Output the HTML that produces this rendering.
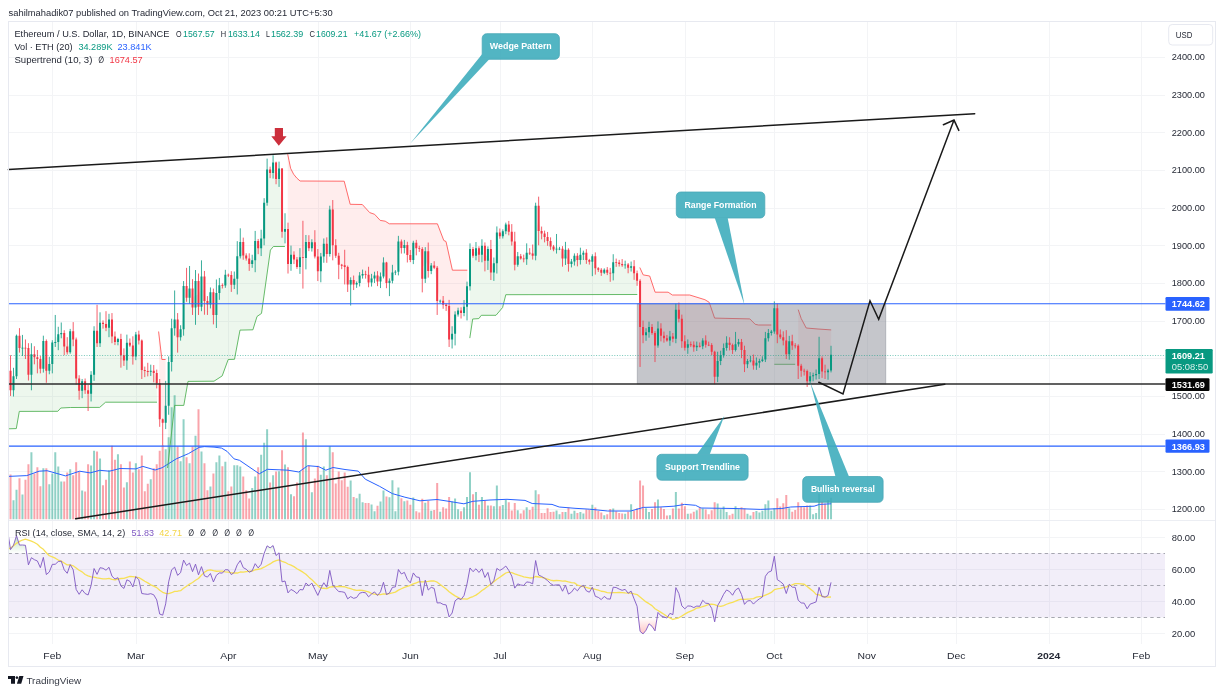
<!DOCTYPE html>
<html lang="en"><head><meta charset="utf-8"><title>ETH/USD chart</title>
<style>html,body{margin:0;padding:0;background:#fff}body{width:1224px;height:694px;overflow:hidden}svg{display:block;filter:blur(0.4px)}</style>
</head><body>
<svg width="1224" height="694" viewBox="0 0 1224 694" font-family='"Liberation Sans", "DejaVu Sans", sans-serif' font-size="10.4">
<rect width="1224" height="694" fill="#fff"/>
<path d="M8.5 509.5H1165M8.5 471.5H1165M8.5 434.5H1165M8.5 396.5H1165M8.5 358.5H1165M8.5 321.5H1165M8.5 283.5H1165M8.5 245.5H1165M8.5 208.5H1165M8.5 170.5H1165M8.5 132.5H1165M8.5 95.5H1165M8.5 57.5H1165M8.5 537.5H1165M8.5 569.5H1165M8.5 601.5H1165M8.5 633.5H1165M52.5 21.5V644M136.5 21.5V644M228.5 21.5V644M318.5 21.5V644M410.5 21.5V644M500.5 21.5V644M592.5 21.5V644M685.5 21.5V644M774.5 21.5V644M867.5 21.5V644M956.5 21.5V644M1049.5 21.5V644M1141.5 21.5V644" stroke="#f3f4f6" stroke-width="1" fill="none"/>
<path d="M12.51 519.2v-19h2v19zM15.5 519.2v-29.5h2v29.5zM21.46 519.2v-24.6h2v24.6zM30.41 519.2v-67h2v67zM42.35 519.2v-51h2v51zM48.32 519.2v-35h2v35zM51.3 519.2v-45.7h2v45.7zM54.28 519.2v-67h2v67zM57.27 519.2v-52.7h2v52.7zM60.25 519.2v-37.8h2v37.8zM69.2 519.2v-50h2v50zM81.14 519.2v-28.6h2v28.6zM90.09 519.2v-53.6h2v53.6zM93.07 519.2v-68.5h2v68.5zM99.04 519.2v-60.6h2v60.6zM107.99 519.2v-49h2v49zM116.94 519.2v-65h2v65zM125.89 519.2v-37h2v37zM134.84 519.2v-55.9h2v55.9zM149.76 519.2v-40h2v40zM164.68 519.2v-70h2v70zM167.66 519.2v-82h2v82zM170.64 519.2v-112h2v112zM173.63 519.2v-124h2v124zM179.59 519.2v-58h2v58zM182.58 519.2v-100h2v100zM188.55 519.2v-56h2v56zM194.51 519.2v-83.4h2v83.4zM200.48 519.2v-67.8h2v67.8zM209.43 519.2v-32.7h2v32.7zM215.4 519.2v-57h2v57zM218.38 519.2v-63.8h2v63.8zM224.35 519.2v-57.5h2v57.5zM233.3 519.2v-54h2v54zM236.28 519.2v-54h2v54zM239.27 519.2v-52.8h2v52.8zM251.2 519.2v-31.3h2v31.3zM254.18 519.2v-42.6h2v42.6zM260.15 519.2v-64.5h2v64.5zM263.14 519.2v-76.4h2v76.4zM266.12 519.2v-90h2v90zM272.09 519.2v-44h2v44zM278.05 519.2v-48h2v48zM284.02 519.2v-54.6h2v54.6zM289.99 519.2v-25h2v25zM298.94 519.2v-48h2v48zM304.91 519.2v-80h2v80zM310.87 519.2v-27h2v27zM319.82 519.2v-44.4h2v44.4zM322.81 519.2v-52.8h2v52.8zM328.77 519.2v-73h2v73zM349.66 519.2v-38.6h2v38.6zM355.63 519.2v-21h2v21zM358.61 519.2v-25.5h2v25.5zM361.59 519.2v-16.9h2v16.9zM370.55 519.2v-14.7h2v14.7zM373.53 519.2v-7.9h2v7.9zM379.5 519.2v-17.8h2v17.8zM382.48 519.2v-28.8h2v28.8zM388.45 519.2v-21.9h2v21.9zM391.43 519.2v-39h2v39zM394.41 519.2v-7.9h2v7.9zM397.4 519.2v-31.8h2v31.8zM403.36 519.2v-18h2v18zM412.32 519.2v-21.6h2v21.6zM424.25 519.2v-16.5h2v16.5zM430.22 519.2v-8.4h2v8.4zM439.17 519.2v-7.5h2v7.5zM451.1 519.2v-17.8h2v17.8zM454.09 519.2v-20.7h2v20.7zM457.07 519.2v-9.9h2v9.9zM463.04 519.2v-12h2v12zM466.02 519.2v-22.3h2v22.3zM469 519.2v-47h2v47zM474.97 519.2v-27.3h2v27.3zM480.94 519.2v-22.3h2v22.3zM486.91 519.2v-13.8h2v13.8zM492.87 519.2v-12.9h2v12.9zM495.86 519.2v-33.6h2v33.6zM501.82 519.2v-14.2h2v14.2zM504.81 519.2v-19.2h2v19.2zM516.74 519.2v-9h2v9zM525.69 519.2v-12h2v12zM534.64 519.2v-29h2v29zM555.53 519.2v-8.8h2v8.8zM558.51 519.2v-4.9h2v4.9zM564.48 519.2v-7.2h2v7.2zM570.45 519.2v-5.4h2v5.4zM573.43 519.2v-8.4h2v8.4zM579.4 519.2v-7.2h2v7.2zM582.38 519.2v-5.8h2v5.8zM591.33 519.2v-14.4h2v14.4zM603.27 519.2v-4h2v4zM612.22 519.2v-10.6h2v10.6zM624.15 519.2v-5.4h2v5.4zM630.12 519.2v-15h2v15zM645.04 519.2v-11h2v11zM648.02 519.2v-7.2h2v7.2zM656.97 519.2v-19.6h2v19.6zM668.91 519.2v-4h2v4zM674.87 519.2v-27.3h2v27.3zM686.81 519.2v-5.4h2v5.4zM695.76 519.2v-9h2v9zM701.72 519.2v-10.6h2v10.6zM716.64 519.2v-15.6h2v15.6zM719.63 519.2v-9.9h2v9.9zM722.61 519.2v-12.6h2v12.6zM725.59 519.2v-7.2h2v7.2zM734.54 519.2v-12.9h2v12.9zM737.53 519.2v-9.9h2v9.9zM746.48 519.2v-5.4h2v5.4zM749.46 519.2v-3.6h2v3.6zM755.43 519.2v-8.1h2v8.1zM758.41 519.2v-6.6h2v6.6zM761.4 519.2v-8.4h2v8.4zM764.38 519.2v-15h2v15zM767.36 519.2v-18.7h2v18.7zM770.35 519.2v-8.4h2v8.4zM773.33 519.2v-11h2v11zM788.25 519.2v-11h2v11zM809.13 519.2v-13.8h2v13.8zM812.12 519.2v-4.9h2v4.9zM815.1 519.2v-6.1h2v6.1zM818.09 519.2v-25.5h2v25.5zM827.04 519.2v-19.2h2v19.2zM830.02 519.2v-21.5h2v21.5z" fill="#089981" fill-opacity="0.45"/>
<path d="M9.53 519.2v-44.8h2v44.8zM18.48 519.2v-41h2v41zM24.45 519.2v-39.5h2v39.5zM27.43 519.2v-55h2v55zM33.4 519.2v-45.7h2v45.7zM36.38 519.2v-52h2v52zM39.37 519.2v-33h2v33zM45.33 519.2v-51h2v51zM63.23 519.2v-37.8h2v37.8zM66.22 519.2v-46.6h2v46.6zM72.19 519.2v-44h2v44zM75.17 519.2v-57h2v57zM78.15 519.2v-48h2v48zM84.12 519.2v-27.8h2v27.8zM87.1 519.2v-55h2v55zM96.05 519.2v-67.7h2v67.7zM102.02 519.2v-34h2v34zM105 519.2v-39.5h2v39.5zM110.97 519.2v-73.5h2v73.5zM113.96 519.2v-59.4h2v59.4zM119.92 519.2v-55h2v55zM122.91 519.2v-31.6h2v31.6zM128.87 519.2v-57.6h2v57.6zM131.86 519.2v-46.6h2v46.6zM137.82 519.2v-50h2v50zM140.81 519.2v-63.6h2v63.6zM143.79 519.2v-28h2v28zM146.78 519.2v-35.5h2v35.5zM152.74 519.2v-51h2v51zM155.73 519.2v-55h2v55zM158.71 519.2v-68.5h2v68.5zM161.69 519.2v-74h2v74zM176.61 519.2v-72.6h2v72.6zM185.56 519.2v-62h2v62zM191.53 519.2v-72.6h2v72.6zM197.5 519.2v-110h2v110zM203.46 519.2v-56h2v56zM206.45 519.2v-29h2v29zM212.41 519.2v-45.8h2v45.8zM221.37 519.2v-53h2v53zM227.33 519.2v-28h2v28zM230.32 519.2v-32.7h2v32.7zM242.25 519.2v-42.6h2v42.6zM245.23 519.2v-29h2v29zM248.22 519.2v-20.7h2v20.7zM257.17 519.2v-52h2v52zM269.1 519.2v-36.8h2v36.8zM275.07 519.2v-47.6h2v47.6zM281.04 519.2v-69h2v69zM287 519.2v-52h2v52zM292.97 519.2v-23h2v23zM295.96 519.2v-36.8h2v36.8zM301.92 519.2v-86.6h2v86.6zM307.89 519.2v-53.4h2v53.4zM313.86 519.2v-40.8h2v40.8zM316.84 519.2v-53.4h2v53.4zM325.79 519.2v-44h2v44zM331.76 519.2v-66.9h2v66.9zM334.74 519.2v-35.8h2v35.8zM337.73 519.2v-47.6h2v47.6zM340.71 519.2v-39h2v39zM343.69 519.2v-46.7h2v46.7zM346.68 519.2v-32.4h2v32.4zM352.64 519.2v-22.3h2v22.3zM364.58 519.2v-16.2h2v16.2zM367.56 519.2v-16.2h2v16.2zM376.51 519.2v-13.5h2v13.5zM385.46 519.2v-22.8h2v22.8zM400.38 519.2v-21h2v21zM406.35 519.2v-18.7h2v18.7zM409.33 519.2v-14.4h2v14.4zM415.3 519.2v-7.9h2v7.9zM418.28 519.2v-6.6h2v6.6zM421.27 519.2v-20.5h2v20.5zM427.23 519.2v-18.3h2v18.3zM433.2 519.2v-9.3h2v9.3zM436.18 519.2v-36.3h2v36.3zM442.15 519.2v-12h2v12zM445.14 519.2v-10.6h2v10.6zM448.12 519.2v-22.3h2v22.3zM460.05 519.2v-7.9h2v7.9zM471.99 519.2v-25h2v25zM477.95 519.2v-14.4h2v14.4zM483.92 519.2v-18.3h2v18.3zM489.89 519.2v-13.8h2v13.8zM498.84 519.2v-12.9h2v12.9zM507.79 519.2v-16.9h2v16.9zM510.77 519.2v-8.8h2v8.8zM513.76 519.2v-16.2h2v16.2zM519.73 519.2v-5.8h2v5.8zM522.71 519.2v-9h2v9zM528.68 519.2v-9.3h2v9.3zM531.66 519.2v-12.4h2v12.4zM537.63 519.2v-25h2v25zM540.61 519.2v-6.3h2v6.3zM543.59 519.2v-6.3h2v6.3zM546.58 519.2v-11h2v11zM549.56 519.2v-7.2h2v7.2zM552.54 519.2v-7.5h2v7.5zM561.5 519.2v-7.2h2v7.2zM567.46 519.2v-11.7h2v11.7zM576.41 519.2v-6.3h2v6.3zM585.36 519.2v-9.7h2v9.7zM588.35 519.2v-9.7h2v9.7zM594.32 519.2v-11.7h2v11.7zM597.3 519.2v-8.1h2v8.1zM600.28 519.2v-6.6h2v6.6zM606.25 519.2v-4.9h2v4.9zM609.23 519.2v-10.2h2v10.2zM615.2 519.2v-7.9h2v7.9zM618.18 519.2v-6.3h2v6.3zM621.17 519.2v-5.8h2v5.8zM627.13 519.2v-7.5h2v7.5zM633.1 519.2v-8.4h2v8.4zM636.09 519.2v-11h2v11zM639.07 519.2v-38.6h2v38.6zM642.05 519.2v-33.6h2v33.6zM651 519.2v-10.2h2v10.2zM653.99 519.2v-16.9h2v16.9zM659.95 519.2v-12h2v12zM662.94 519.2v-10.2h2v10.2zM665.92 519.2v-3.6h2v3.6zM671.89 519.2v-10.6h2v10.6zM677.86 519.2v-10.8h2v10.8zM680.84 519.2v-16.5h2v16.5zM683.82 519.2v-12.9h2v12.9zM689.79 519.2v-5.8h2v5.8zM692.77 519.2v-7.5h2v7.5zM698.74 519.2v-12h2v12zM704.71 519.2v-9.7h2v9.7zM707.69 519.2v-4.9h2v4.9zM710.68 519.2v-9h2v9zM713.66 519.2v-16.9h2v16.9zM728.58 519.2v-4h2v4zM731.56 519.2v-5.4h2v5.4zM740.51 519.2v-12h2v12zM743.5 519.2v-10.8h2v10.8zM752.45 519.2v-7.2h2v7.2zM776.31 519.2v-21h2v21zM779.3 519.2v-12.6h2v12.6zM782.28 519.2v-16h2v16zM785.27 519.2v-24.3h2v24.3zM791.23 519.2v-7.5h2v7.5zM794.22 519.2v-9.3h2v9.3zM797.2 519.2v-16.9h2v16.9zM800.18 519.2v-12.6h2v12.6zM803.17 519.2v-12h2v12zM806.15 519.2v-13.8h2v13.8zM821.07 519.2v-17.4h2v17.4zM824.05 519.2v-15.6h2v15.6z" fill="#f23645" fill-opacity="0.45"/>
<polyline points="8.4,476.4 26.8,475.6 39.1,471.2 47.1,470.7 65.5,475.9 79.6,471.2 90.1,472.9 99.8,470.3 109.4,471.2 120,468.5 135.8,468.9 142.8,466.4 155.1,470 162.2,467.7 176.2,458.9 188.5,453.6 199.1,447.4 204.4,446.6 214,447.1 221.6,448.1 227,451.3 234.1,458.9 239.5,460.3 259.3,473.8 267.4,469.3 288,470.2 298.8,472 307.8,465.7 318.6,466.6 325.8,470.2 333,467.5 345,469.5 358.2,471.1 365.3,479.2 379.7,486.4 392.3,493.6 404.9,497.2 420,500.8 437,499.5 450,501.5 463.9,503.8 472.9,501.3 490,500 507,499.3 525,500.4 532.2,503.5 552,504.4 559.2,507 575,508.3 589.7,509.2 607.7,511 630.8,511 643.4,507.4 660,507 673.9,506.2 684.7,504.4 695.5,505.3 700.9,508 735,508.5 760.2,509.4 781.8,508.5 790.7,507 814.1,506.2 819.5,504.4 831.2,503.8" fill="none" stroke="#2962ff" stroke-width="1" stroke-linejoin="round"/>
<polygon points="8.4,428.8 16.3,428.6 19.3,411.4 57.8,411.3 60.8,408 70.4,407.5 99.7,407.4 105.6,402.2 157,402.2 156.73,378.53 153.74,372.78 150.76,370.8 147.78,370.52 144.79,371.18 141.81,357.24 138.82,337.57 135.84,345.75 132.86,350.69 129.87,343.43 126.89,351.96 123.91,357.53 120.92,348.96 117.94,341.07 114.96,338.78 111.97,328.05 108.99,324.56 106,323.53 103.02,323.97 100.04,331.34 97.05,331.44 94.07,353.19 91.09,385.3 88.1,394.91 85.12,385.99 82.14,387.28 79.15,386.06 76.17,360.07 73.19,334.73 70.2,341.52 67.22,347.64 64.23,341.27 61.25,332 58.27,338.3 55.28,336.62 52.3,354.98 49.32,366.43 46.33,358.47 43.35,354.51 40.37,364.31 37.38,359.88 34.4,355.45 31.41,365.62 28.43,361.67 25.45,348.58 22.46,346.69 19.48,341.14 16.5,356.39 13.51,382.75 10.53,378.06" fill="#4caf50" fill-opacity="0.1"/>
<polyline points="8.4,428.8 16.3,428.6 19.3,411.4 57.8,411.3 60.8,408 70.4,407.5 99.7,407.4 105.6,402.2 157,402.2" fill="none" stroke="#4caf50" stroke-width="1" stroke-opacity="0.85" stroke-linejoin="round"/>
<polygon points="158.6,331.5 161.9,359.5 165.6,359.5 165.6,409.6 162.69,426.56 159.71,402.07" fill="#ff5252" fill-opacity="0.1"/>
<polyline points="158.6,331.5 161.9,359.5 165.6,359.5" fill="none" stroke="#ff5252" stroke-width="1" stroke-opacity="0.85" stroke-linejoin="round"/>
<polygon points="167.6,468 174.6,405.4 183.8,405.4 188,381.4 214,381.2 222.2,375.9 228.2,359.5 234.5,359.3 240,330.1 252.9,329.8 257,316.5 261.5,313.4 270.4,250.1 273.4,246.5 284.9,246.5 279.05,173.98 276.07,171.81 273.09,167.29 270.1,171.83 267.12,184.15 264.14,221.16 261.15,243.14 258.17,245.64 255.18,251.14 252.2,261.76 249.22,261.68 246.23,256.96 243.25,248.67 240.27,246.21 237.28,267.66 234.3,281.04 231.32,280.74 228.33,275.08 225.35,279.46 222.37,285.66 219.38,289.02 216.4,303.89 213.41,305.07 210.43,298.16 207.45,304.13 204.46,290.81 201.48,288.68 198.5,294.05 195.51,295.83 192.53,297.54 189.55,288.97 186.56,288.31 183.58,307.99 180.59,333.1 177.61,330.59 174.63,318.44 171.64,345.09 168.66,384.74" fill="#4caf50" fill-opacity="0.1"/>
<polyline points="167.6,468 174.6,405.4 183.8,405.4 188,381.4 214,381.2 222.2,375.9 228.2,359.5 234.5,359.3 240,330.1 252.9,329.8 257,316.5 261.5,313.4 270.4,250.1 273.4,246.5 284.9,246.5" fill="none" stroke="#4caf50" stroke-width="1" stroke-opacity="0.85" stroke-linejoin="round"/>
<polygon points="287.7,154.2 289,160.5 290.6,168.3 293.6,174.2 296.8,178.1 300.1,181 344.2,181.2 350.2,204.3 362.3,204.5 369.7,212.6 374.6,214.3 380.2,220.4 385.2,221.2 389.3,223.8 437.4,223.8 443.8,240.5 446,241.5 452.4,270.2 467.3,270.2 467.02,298.76 464.04,309.01 461.05,312.33 458.07,312.32 455.09,326.28 452.1,336.99 449.12,323.06 446.14,306.29 443.15,302.57 440.17,301.13 437.18,287.46 434.2,265.95 431.22,268.42 428.23,260.58 425.25,265.05 422.27,266.83 419.28,248.75 416.3,246.53 413.32,251.86 410.33,256.79 407.35,251.06 404.36,246.53 401.38,245.62 398.4,256.1 395.41,272.33 392.43,275.32 389.45,284.54 386.46,273.9 383.48,268.72 380.5,279.63 377.51,278.54 374.53,277.13 371.55,280.35 368.56,277.81 365.58,274.47 362.59,274.37 359.61,279.22 356.63,284.17 353.64,282.5 350.66,286.8 347.68,277.29 344.69,266.65 341.71,265.79 338.73,263.16 335.74,249.55 332.76,228.79 329.77,231.42 326.79,249.46 323.81,250.39 320.82,265.76 317.84,264.48 314.86,246.87 311.87,245.33 308.89,244.13 305.91,251.08 302.92,256.19 299.94,261.61 296.96,263.16 293.97,257.41 290.99,258.8 288,247.34 287.7,229.35 287.7,201.48" fill="#ff5252" fill-opacity="0.1"/>
<polyline points="287.7,154.2 289,160.5 290.6,168.3 293.6,174.2 296.8,178.1 300.1,181 344.2,181.2 350.2,204.3 362.3,204.5 369.7,212.6 374.6,214.3 380.2,220.4 385.2,221.2 389.3,223.8 437.4,223.8 443.8,240.5 446,241.5 452.4,270.2 467.3,270.2" fill="none" stroke="#ff5252" stroke-width="1" stroke-opacity="0.85" stroke-linejoin="round"/>
<polygon points="469.8,338.1 472.7,319 478.8,318.6 481.3,315.3 496,315.3 502.6,307.5 505.8,294.7 637.3,294.5 637.09,277.55 634.1,269.88 631.12,266.84 628.13,267.16 625.15,264.78 622.17,263.82 619.18,263.28 616.2,262.56 613.22,267.5 610.23,273.9 607.25,271.17 604.27,271.24 601.28,271.63 598.3,269.27 595.32,262.86 592.33,262.13 589.35,261.32 586.36,256.46 583.38,254.53 580.4,256.71 577.41,258.81 574.43,259.06 571.45,262.98 568.46,258.45 565.48,253.77 562.5,254.98 559.51,248.58 556.53,246.4 553.54,248 550.56,243.68 547.58,238.96 544.59,235.89 541.61,232.62 538.63,219.65 535.64,231.14 532.66,253.37 529.68,252.37 526.69,255.06 523.71,258.65 520.73,257.06 517.74,259.94 514.76,252.14 511.77,235.72 508.79,228.12 505.81,228.18 502.82,233.85 499.84,233.97 496.86,248.94 493.87,268.55 490.89,260.34 487.91,256.52 484.92,255.04 481.94,250.47 478.95,252.82 475.97,251.61 472.99,252.38 470,267.31" fill="#4caf50" fill-opacity="0.1"/>
<polyline points="469.8,338.1 472.7,319 478.8,318.6 481.3,315.3 496,315.3 502.6,307.5 505.8,294.7 637.3,294.5" fill="none" stroke="#4caf50" stroke-width="1" stroke-opacity="0.85" stroke-linejoin="round"/>
<polygon points="639.8,267.5 643.2,274.9 649.7,276 655.1,292.2 668.1,292.2 672.4,295 689.7,295 704.9,299.7 709.2,302.3 714.6,318.1 749.8,318.9 755.2,324.3 758.4,325 771.3,325 771.3,332.5 768.36,335.46 765.38,347.92 762.4,359.68 759.41,362.58 756.43,363.9 753.45,362.55 750.46,359.95 747.48,363.09 744.5,358.01 741.51,347.28 738.53,343.01 735.54,344.43 732.56,348.16 729.58,343.92 726.59,344.48 723.61,351.12 720.63,358.01 717.64,367.87 714.66,365.91 711.68,348.81 708.69,344.38 705.71,342.07 702.72,343.56 699.74,345.5 696.76,346.44 693.77,346.27 690.79,344.42 687.81,346.33 684.82,343.72 681.84,330.63 678.86,313.33 675.87,323.81 672.89,337.6 669.91,338.44 666.92,338.89 663.94,337.06 660.95,332.21 657.97,335.77 654.99,342.93 652,329.73 649.02,329.66 646.04,334.17 643.05,331.53 640.07,313.45" fill="#ff5252" fill-opacity="0.1"/>
<polyline points="639.8,267.5 643.2,274.9 649.7,276 655.1,292.2 668.1,292.2 672.4,295 689.7,295 704.9,299.7 709.2,302.3 714.6,318.1 749.8,318.9 755.2,324.3 758.4,325 771.3,325" fill="none" stroke="#ff5252" stroke-width="1" stroke-opacity="0.85" stroke-linejoin="round"/>
<polygon points="774.3,364.3 795.2,364.3 795.2,345.72 792.23,342.86 789.25,347.78 786.27,345.97 783.28,338.61 780.3,335.02 777.31,322.4 774.33,318.72" fill="#4caf50" fill-opacity="0.1"/>
<polyline points="774.3,364.3 795.2,364.3" fill="none" stroke="#4caf50" stroke-width="1" stroke-opacity="0.85" stroke-linejoin="round"/>
<polygon points="798.2,309.6 801.2,318.5 806.2,328 818,329 831.2,329.9 831.02,360.89 828.04,372.82 825.05,371.84 822.07,366 819.09,362.05 816.1,374.59 813.12,376.39 810.13,378.36 807.15,377.21 804.17,371.51 801.18,369.28 798.2,358.75" fill="#ff5252" fill-opacity="0.1"/>
<polyline points="798.2,309.6 801.2,318.5 806.2,328 818,329 831.2,329.9" fill="none" stroke="#ff5252" stroke-width="1" stroke-opacity="0.85" stroke-linejoin="round"/>
<rect x="637.2" y="303.8" width="248.6" height="80.21" fill="#787b86" fill-opacity="0.43" stroke="#787b86" stroke-opacity="0.45" stroke-width="0.8"/>
<path d="M13.51 367.81V396.53M16.5 334.55V379M22.46 334.92V356.02M31.41 343.21V390.3M43.35 335.68V372.59M49.32 356.81V374.28M52.3 340.2V373.35M55.28 314.96V346.98M58.27 326.78V350.18M61.25 322.49V338.31M70.2 328.9V353.76M82.14 378.98V398.19M91.09 371.17V401.48M94.07 326.26V380.88M100.04 312.32V346.98M108.99 313.83V337.18M117.94 337.84V345.31M126.89 334.64V369.82M135.84 331.91V360.16M150.76 364.68V375.98M165.68 380.88V429.1M168.66 356.39V414.78M171.64 318.72V371.46M174.63 290.47V335.68M180.59 325.25V340.67M183.58 281.05V335.68M189.55 265.99V303.66M195.51 270.03V324.82M201.48 260.34V311.19M210.43 287.46V308.4M216.4 279.49V328.01M219.38 277.95V299.82M225.35 269.81V287.8M234.3 271.52V289.02M237.28 241.17V294.46M240.27 228.32V258.45M252.2 254.75V267.84M255.18 230.92V272.2M261.15 229.75V256.06M264.14 198.18V245.27M267.12 158.63V205.71M273.09 155.24V178.59M279.05 161.64V186.88M285.02 213.25V243.38M290.99 245.6V270.8M299.94 248.12V273.9M305.91 234.97V269.4M311.87 239.23V251.55M320.82 252.95V282.27M323.81 238.48V262.76M329.77 205.71V256.57M350.66 277.29V305.54M356.63 281.44V287.86M359.61 272.1V286.43M362.59 269.58V278.6M371.55 273.87V286.55M374.53 271.73V282.96M380.5 272.48V288.07M383.48 257.32V278.42M389.45 278.42V296.12M392.43 264.84V283.36M395.41 270.18V275.1M398.4 235.85V275.4M404.36 239.91V253.44M413.32 240.75V264.1M425.25 247.15V282.94M431.22 263.06V274.14M440.17 299.63V303.21M452.1 326.26V348.48M455.09 311.31V345.42M458.07 307.69V316.58M464.04 300.07V316.22M467.02 281.63V320.41M470 243.38V290.47M475.97 242.06V260.29M481.94 239.25V262.29M487.91 246.41V269.94M493.87 257.54V280.9M496.86 226.43V273.52M502.82 229.33V238.52M505.81 222.65V234.19M517.74 251.96V266.76M526.69 243.38V264.86M535.64 202.7V260.34M556.53 233.97V253.56M559.51 246.83V250.15M565.48 241.85V264.97M571.45 258.93V267.42M574.43 253.42V265.56M580.4 247.69V264.52M583.38 250.64V260M592.33 254.31V276.16M604.27 268.35V274.08M613.22 254.23V280.39M625.15 260.66V268.73M631.12 261.55V271.57M646.04 328.26V340.81M649.02 321.67V337.69M657.97 321.36V347.73M669.91 330.9V345.84M675.87 303.66V343.21M687.81 339.42V353.83M696.76 341.56V351.01M702.72 338.24V349.19M717.64 351.71V382.12M720.63 350.76V365.11M723.61 343.47V357.65M726.59 336.29V350.68M735.54 331.91V351.5M738.53 338.92V346.68M747.48 358.97V368.15M750.46 356.01V362.36M756.43 357.49V369.89M759.41 358.81V367.81M762.4 356.3V362.07M765.38 331.91V362.05M768.36 329.03V341.47M771.35 329.88V335.55M774.33 301.4V333.79M789.25 335.89V359.75M810.13 372.12V383.71M813.12 372.69V381.27M816.1 369.49V379.55M819.09 336.81V379M828.04 368.83V379.75M831.02 345.79V372.45" stroke="#089981" stroke-width="0.8" fill="none"/>
<path d="M10.53 355.26V395.95M19.48 328.14V352.63M25.45 339.44V359.03M28.43 343.21V380.5M34.4 346.22V364.31M37.38 349.99V373.35M40.37 356.02V373.35M46.33 339.44V382.76M64.23 330.23V355.2M67.22 337.18V354.51M73.19 322.12V346.22M76.17 337.56V384.65M79.15 375.23V399.72M85.12 378.51V393.9M88.1 384.65V411.02M97.05 304.79V346.98M103.02 320.39V328.61M106 311.19V331.16M111.97 313.07V343.21M114.96 331.5V345.09M120.92 333.79V367.7M123.91 348.38V365.92M129.87 338.51V346.89M132.86 336.29V364.62M138.82 330.67V344.48M141.81 339.44V379M144.79 366.57V377.11M147.78 362.8V376.36M153.74 365.06V382.39M156.73 369.58V388.41M159.71 379V426.84M162.69 418.55V445.67M177.61 313.07V352.63M186.56 267.87V301.77M192.53 279.17V314.96M198.5 273.52V314.96M204.46 270.94V314.72M207.45 296.12V314.96M213.41 288.59V324.38M222.37 283.4V288.47M228.33 273.6V277.02M231.32 271.19V291.92M243.25 237.62V259.75M246.23 253.29V260.64M249.22 253.32V270.86M258.17 238.96V254.18M270.1 166.66V178.17M276.07 161.64V184.24M282.04 168.04V237.73M288 222.67V273.52M293.97 251.34V264.04M296.96 257.06V268.87M302.92 220.78V288.59M308.89 235.23V251.13M314.86 230.2V258.45M317.84 249.04V281.05M326.79 237.36V262.8M332.76 200.06V260.34M335.74 239.21V257.92M338.73 252.8V279.17M341.71 263.9V269.19M344.69 249.79V284.45M347.68 265.61V291.98M353.64 275.56V290.06M365.58 270.72V278.61M368.56 266.77V287.26M377.51 271.17V286.15M386.46 261.84V288.21M401.38 239.51V253.59M407.35 241.78V262.49M410.33 249.99V262.15M416.3 239.87V255.35M419.28 245.74V251.92M422.27 247.15V292.36M428.23 242.53V277.63M434.2 261.22V269.09M437.18 265.99V314.96M443.15 296.03V308.81M446.14 303.51V310.94M449.12 299.89V346.98M461.05 307.3V318.5M472.99 246.89V257.76M478.95 246.29V262.03M484.92 242.43V271.38M490.89 239.92V280.03M499.84 228.48V238.73M508.79 220.91V235.3M511.77 224.1V245.57M514.76 231.78V270.4M520.73 253.93V259.65M523.71 254.6V262.34M529.68 248.16V254.95M532.66 244.51V259.58M538.63 196.67V245.27M541.61 226.57V239.35M544.59 230.64V242.36M547.58 231.94V245.8M550.56 237.38V249.82M553.54 244.93V251.24M562.5 246.14V266.67M568.46 248.28V271.64M577.41 253.11V266.35M586.36 249.18V263.89M589.35 258.86V264.6M595.32 252.39V274.62M598.3 267.17V271.92M601.28 268.12V275.9M607.25 267.08V275.1M610.23 267.87V281.81M616.2 258.58V266.85M619.18 259.9V266.53M622.17 259.08V266.86M628.13 263.02V273.27M634.1 260.14V279.87M637.09 270.56V285.81M640.07 279.17V366.94M643.05 320.61V343.21M652 324.12V334.73M654.99 331.16V362.05M660.95 323.28V341.36M663.94 331.58V342.66M666.92 334.97V341.72M672.89 333.03V342.24M678.86 302.55V322.36M681.84 314.62V347.85M684.82 335.28V350.54M690.79 341.54V347.1M693.77 341.31V351.72M699.74 342.48V347.46M705.71 335.34V347.64M708.69 341.64V346.08M711.68 343.13V355.16M714.66 350.74V384.27M729.58 337.28V350.46M732.56 343.6V353.94M741.51 338.96V358.1M744.5 345.69V372.07M753.45 354.57V369.67M777.31 303.66V343.21M780.3 329.46V338.91M783.28 331.33V345.36M786.27 330.16V359.02M792.23 334.74V349.9M795.22 343.17V348.4M798.2 344.34V379M801.18 363.85V376.76M804.17 368.69V375.55M807.15 369.58V386.91M822.07 356.39V377.87M825.05 364.68V379" stroke="#f23645" stroke-width="0.8" fill="none"/>
<path d="M12.51 376.36h2V390.3h-2zM15.5 335.68h2V376.36h-2zM21.46 347.73h2V348.53h-2zM30.41 354.13h2V374.85h-2zM42.35 340.95h2V368.83h-2zM48.32 363.93h2V370.71h-2zM51.3 342.46h2V363.93h-2zM54.28 342.08h2V342.88h-2zM57.27 334.17h2V342.08h-2zM60.25 333.04h2V334.17h-2zM69.2 331.16h2V352.25h-2zM81.14 381.26h2V390.67h-2zM90.09 374.85h2V393.69h-2zM93.07 330.78h2V374.85h-2zM99.04 322.87h2V343.21h-2zM107.99 319.48h2V327.77h-2zM116.94 339.07h2V342.08h-2zM125.89 342.83h2V360.54h-2zM134.84 334.55h2V356.39h-2zM149.76 370.71h2V371.84h-2zM164.68 405.74h2V422.69h-2zM167.66 362.05h2V405.74h-2zM170.64 328.14h2V362.05h-2zM173.63 319.48h2V328.14h-2zM179.59 329.27h2V337.18h-2zM182.58 285.95h2V329.27h-2zM188.55 288.59h2V297.63h-2zM194.51 281.05h2V307.42h-2zM200.48 276.53h2V306.67h-2zM209.43 292.36h2V304.41h-2zM215.4 293.11h2V314.96h-2zM218.38 285.2h2V293.11h-2zM224.35 274.65h2V285.58h-2zM233.3 278.79h2V284.82h-2zM236.28 256.19h2V278.79h-2zM239.27 241.88h2V256.19h-2zM251.2 260.34h2V264.1h-2zM254.18 241.12h2V260.34h-2zM260.15 238.49h2V248.28h-2zM263.14 202.7h2V238.49h-2zM266.12 169.55h2V202.7h-2zM272.09 162.39h2V172.94h-2zM278.05 168.42h2V178.97h-2zM284.02 229.07h2V231.71h-2zM289.99 254.69h2V264.1h-2zM298.94 257.32h2V267.12h-2zM304.91 241.88h2V258.08h-2zM310.87 242.25h2V248.28h-2zM319.82 256.57h2V271.26h-2zM322.81 243.76h2V256.57h-2zM328.77 209.48h2V253.93h-2zM349.66 279.92h2V284.45h-2zM355.63 282.94h2V284.45h-2zM358.61 275.4h2V282.94h-2zM361.59 273.9h2V275.4h-2zM370.55 278.42h2V282.56h-2zM373.53 275.4h2V278.42h-2zM379.5 276.53h2V281.43h-2zM382.48 262.6h2V276.53h-2zM388.45 280.68h2V282.94h-2zM391.43 272.39h2V280.68h-2zM394.41 271.64h2V272.44h-2zM397.4 241.5h2V271.64h-2zM403.36 244.89h2V247.91h-2zM412.32 242.63h2V259.96h-2zM424.25 251.3h2V278.79h-2zM430.22 265.61h2V270.88h-2zM439.17 300.64h2V301.44h-2zM451.1 333.79h2V339.44h-2zM454.09 314.58h2V333.79h-2zM457.07 310.44h2V314.58h-2zM463.04 306.67h2V313.07h-2zM466.02 286.33h2V306.67h-2zM469 249.04h2V286.33h-2zM474.97 248.28h2V255.82h-2zM480.94 245.65h2V254.69h-2zM486.91 249.04h2V260.71h-2zM492.87 263.35h2V272.39h-2zM495.86 232.46h2V263.35h-2zM501.82 231.33h2V236.23h-2zM504.81 224.55h2V231.33h-2zM516.74 256.19h2V264.86h-2zM525.69 252.8h2V259.21h-2zM534.64 205.71h2V255.82h-2zM555.53 248.66h2V249.46h-2zM558.51 248.66h2V249.46h-2zM564.48 249.79h2V258.45h-2zM570.45 261.47h2V264.1h-2zM573.43 255.82h2V261.47h-2zM579.4 254.69h2V259.96h-2zM582.38 252.8h2V254.69h-2zM591.33 256.19h2V261.84h-2zM603.27 269.75h2V272.77h-2zM612.22 262.22h2V273.14h-2zM624.15 264.48h2V265.28h-2zM630.12 266.36h2V267.87h-2zM645.04 332.29h2V335.3h-2zM648.02 327.01h2V332.29h-2zM656.97 328.52h2V345.47h-2zM668.91 336.43h2V340.57h-2zM674.87 309.68h2V338.69h-2zM686.81 344.34h2V347.73h-2zM695.76 345.85h2V347.35h-2zM701.72 340.57h2V346.22h-2zM716.64 360.92h2V376.74h-2zM719.63 355.26h2V360.92h-2zM722.61 348.11h2V355.26h-2zM725.59 342.83h2V348.11h-2zM734.54 344.34h2V349.99h-2zM737.53 342.08h2V344.34h-2zM746.48 360.92h2V364.31h-2zM749.46 360.54h2V361.34h-2zM755.43 362.8h2V365.44h-2zM758.41 360.92h2V362.8h-2zM761.4 359.41h2V360.92h-2zM764.38 338.31h2V359.41h-2zM767.36 333.04h2V338.31h-2zM770.35 331.53h2V333.04h-2zM773.33 308.18h2V331.53h-2zM788.25 341.33h2V354.13h-2zM809.13 376.36h2V381.26h-2zM812.12 375.23h2V376.36h-2zM815.1 374.1h2V375.23h-2zM818.09 358.28h2V374.1h-2zM827.04 370.49h2V372.22h-2zM830.02 354.81h2V370.49h-2z" fill="#089981"/>
<path d="M9.53 370.71h2V390.3h-2zM18.48 335.68h2V348.11h-2zM24.45 347.73h2V348.53h-2zM27.43 348.11h2V374.85h-2zM33.4 354.13h2V357.15h-2zM36.38 357.15h2V359.03h-2zM39.37 359.03h2V368.83h-2zM45.33 340.95h2V370.71h-2zM63.23 333.04h2V346.6h-2zM66.22 346.6h2V352.25h-2zM72.19 331.16h2V339.44h-2zM75.17 339.44h2V378.62h-2zM78.15 378.62h2V390.67h-2zM84.12 381.26h2V390.3h-2zM87.1 390.3h2V393.69h-2zM96.05 330.78h2V343.21h-2zM102.02 322.87h2V324h-2zM105 324h2V327.77h-2zM110.97 319.48h2V336.43h-2zM113.96 336.43h2V342.08h-2zM119.92 339.07h2V355.26h-2zM122.91 355.26h2V360.54h-2zM128.87 342.83h2V345.47h-2zM131.86 345.47h2V356.39h-2zM137.82 334.55h2V340.57h-2zM140.81 340.57h2V369.96h-2zM143.79 369.96h2V371.09h-2zM146.78 371.09h2V371.89h-2zM152.74 370.71h2V372.97h-2zM155.73 372.97h2V383.14h-2zM158.71 383.14h2V419.3h-2zM161.69 419.3h2V422.69h-2zM176.61 319.48h2V337.18h-2zM185.56 285.95h2V297.63h-2zM191.53 288.59h2V307.42h-2zM197.5 281.05h2V306.67h-2zM203.46 276.53h2V301.02h-2zM206.45 301.02h2V304.41h-2zM212.41 292.36h2V314.96h-2zM221.37 285.2h2V286h-2zM227.33 274.65h2V275.45h-2zM230.32 275.03h2V284.82h-2zM242.25 241.88h2V255.44h-2zM245.23 255.44h2V258.45h-2zM248.22 258.45h2V264.1h-2zM257.17 241.12h2V248.28h-2zM269.1 169.55h2V172.94h-2zM275.07 162.39h2V178.97h-2zM281.04 168.42h2V231.71h-2zM287 229.07h2V264.1h-2zM292.97 254.69h2V259.58h-2zM295.96 259.58h2V267.12h-2zM301.92 257.32h2V258.12h-2zM307.89 241.88h2V248.28h-2zM313.86 242.25h2V256.57h-2zM316.84 256.57h2V271.26h-2zM325.79 243.76h2V253.93h-2zM331.76 209.48h2V245.27h-2zM334.74 245.27h2V255.82h-2zM337.73 255.82h2V264.86h-2zM340.71 264.86h2V265.66h-2zM343.69 265.23h2V267.12h-2zM346.68 267.12h2V284.45h-2zM352.64 279.92h2V284.45h-2zM364.58 273.9h2V274.7h-2zM367.56 274.65h2V282.56h-2zM376.51 275.4h2V281.43h-2zM385.46 262.6h2V282.94h-2zM400.38 241.5h2V247.91h-2zM406.35 244.89h2V255.06h-2zM409.33 255.06h2V259.96h-2zM415.3 242.63h2V248.28h-2zM418.28 248.28h2V249.08h-2zM421.27 249.04h2V278.79h-2zM427.23 251.3h2V270.88h-2zM433.2 265.61h2V267.87h-2zM436.18 267.87h2V301.02h-2zM442.15 300.64h2V304.79h-2zM445.14 304.79h2V305.92h-2zM448.12 305.92h2V339.44h-2zM460.05 310.44h2V313.07h-2zM471.99 249.04h2V255.82h-2zM477.95 248.28h2V254.69h-2zM483.92 245.65h2V260.71h-2zM489.89 249.04h2V272.39h-2zM498.84 232.46h2V236.23h-2zM507.79 224.55h2V231.71h-2zM510.77 231.71h2V241.5h-2zM513.76 241.5h2V264.86h-2zM519.73 256.19h2V258.45h-2zM522.71 258.45h2V259.25h-2zM528.68 252.8h2V253.6h-2zM531.66 253.56h2V255.82h-2zM537.63 205.71h2V230.95h-2zM540.61 230.95h2V233.59h-2zM543.59 233.59h2V236.98h-2zM546.58 236.98h2V241.12h-2zM549.56 241.12h2V246.4h-2zM552.54 246.4h2V249.41h-2zM561.5 248.66h2V258.45h-2zM567.46 249.79h2V264.1h-2zM576.41 255.82h2V259.96h-2zM585.36 252.8h2V259.96h-2zM588.35 259.96h2V261.84h-2zM594.32 256.19h2V268.25h-2zM597.3 268.25h2V269.75h-2zM600.28 269.75h2V272.77h-2zM606.25 269.75h2V272.77h-2zM609.23 272.77h2V273.57h-2zM615.2 262.22h2V263.02h-2zM618.18 262.6h2V264.1h-2zM621.17 264.1h2V265.23h-2zM627.13 264.48h2V267.87h-2zM633.1 266.36h2V273.14h-2zM636.09 273.14h2V280.68h-2zM639.07 280.68h2V327.01h-2zM642.05 327.01h2V335.3h-2zM651 327.01h2V333.04h-2zM653.99 333.04h2V345.47h-2zM659.95 328.52h2V335.68h-2zM662.94 335.68h2V338.31h-2zM665.92 338.31h2V340.57h-2zM671.89 336.43h2V338.69h-2zM677.86 309.68h2V318.72h-2zM680.84 318.72h2V341.33h-2zM683.82 341.33h2V347.73h-2zM689.79 344.34h2V345.14h-2zM692.77 344.72h2V347.35h-2zM698.74 345.85h2V346.65h-2zM704.71 340.57h2V344.72h-2zM707.69 344.72h2V345.52h-2zM710.68 345.09h2V351.87h-2zM713.66 351.87h2V376.74h-2zM728.58 342.83h2V345.09h-2zM731.56 345.09h2V349.99h-2zM740.51 342.08h2V349.99h-2zM743.5 349.99h2V364.31h-2zM752.45 360.54h2V365.44h-2zM776.31 308.18h2V334.55h-2zM779.3 334.55h2V337.18h-2zM782.28 337.18h2V340.57h-2zM785.27 340.57h2V354.13h-2zM791.23 341.33h2V345.47h-2zM794.22 345.47h2V346.27h-2zM797.2 345.85h2V365.81h-2zM800.18 365.81h2V370.71h-2zM803.17 370.71h2V371.51h-2zM806.15 371.09h2V381.26h-2zM821.07 358.28h2V371.46h-2zM824.05 371.46h2V372.26h-2z" fill="#f23645"/>
<path d="M8.5 355.5H1165" stroke="#089981" stroke-width="1" stroke-dasharray="1 1.6" opacity="0.55"/>
<path d="M8.5 303.8H1165.5" stroke="#2962ff" stroke-width="1.1"/>
<path d="M8.5 446.08H1165.5" stroke="#2962ff" stroke-width="1.1"/>
<path d="M8.5 384.01H1165.5" stroke="#2c2c2c" stroke-width="1.35"/>
<path d="M8.4 169.6L974.7 113.7" stroke="#1a1a1a" stroke-width="1.5" stroke-linecap="round"/>
<path d="M75.6 518.7L944.8 384.3" stroke="#1a1a1a" stroke-width="1.5" stroke-linecap="round"/>
<path d="M818.8 382.3L843 394L870 300.8L878.7 319.3L954 120.1M943.4 124.7L954 120.1L958.8 130.4" stroke="#1a1a1a" stroke-width="1.5" fill="none" stroke-linejoin="miter" stroke-linecap="round"/>
<path d="M274.8 128.1H283V136.3H286.6L278.8 145.7L271.3 136.3H274.8Z" fill="#cc2f3c"/>
<g opacity="0.9">
<rect x="482.2" y="33.7" width="77.2" height="25.6" rx="4.5" fill="#40adbd" stroke="#369eae" stroke-width="0.8"/>
<path d="M482.6 53.5L410.2 143.4L489.5 59Z" fill="#40adbd"/>
</g>
<text transform="translate(489.8 49.1) scale(1 0.94)" fill="#fff" textLength="62" lengthAdjust="spacingAndGlyphs" font-weight="bold" font-size="10.29">Wedge Pattern</text>
<g opacity="0.9">
<rect x="676.3" y="192" width="88.5" height="26" rx="4.5" fill="#40adbd" stroke="#369eae" stroke-width="0.8"/>
<path d="M714.6 217.6L744.6 305.2L727.6 217.6Z" fill="#40adbd"/>
</g>
<text transform="translate(684.55 207.6) scale(1 0.94)" fill="#fff" textLength="72" lengthAdjust="spacingAndGlyphs" font-weight="bold" font-size="10.29">Range Formation</text>
<g opacity="0.9">
<rect x="656.9" y="454.3" width="91.2" height="25.9" rx="4.5" fill="#40adbd" stroke="#369eae" stroke-width="0.8"/>
<path d="M696.6 454.7L724.3 416L709.6 454.7Z" fill="#40adbd"/>
</g>
<text transform="translate(665 469.85) scale(1 0.94)" fill="#fff" textLength="75" lengthAdjust="spacingAndGlyphs" font-weight="bold" font-size="10.29">Support Trendline</text>
<g opacity="0.9">
<rect x="802.7" y="476.5" width="80.4" height="25.8" rx="4.5" fill="#40adbd" stroke="#369eae" stroke-width="0.8"/>
<path d="M835.6 476.9L810.1 381.9L849.2 476.9Z" fill="#40adbd"/>
</g>
<text transform="translate(810.9 492) scale(1 0.94)" fill="#fff" textLength="64" lengthAdjust="spacingAndGlyphs" font-weight="bold" font-size="10.29">Bullish reversal</text>
<rect x="8.5" y="553.24" width="1156.5" height="64.12" fill="#7e57c2" fill-opacity="0.1"/>
<path d="M8.5 553.5H1165" stroke="#80838c" stroke-width="0.75" stroke-dasharray="3.4 3.2" opacity="0.9"/>
<path d="M8.5 585.5H1165" stroke="#80838c" stroke-width="0.75" stroke-dasharray="3.4 3.2" opacity="0.9"/>
<path d="M8.5 617.5H1165" stroke="#80838c" stroke-width="0.75" stroke-dasharray="3.4 3.2" opacity="0.9"/>
<defs><linearGradient id="gob" gradientUnits="userSpaceOnUse" x1="0" y1="505.15" x2="0" y2="553.24"><stop offset="0" stop-color="#4caf50" stop-opacity="1"/><stop offset="1" stop-color="#4caf50" stop-opacity="0"/></linearGradient><linearGradient id="gos" gradientUnits="userSpaceOnUse" x1="0" y1="617.36" x2="0" y2="665.45"><stop offset="0" stop-color="#ff5252" stop-opacity="0"/><stop offset="1" stop-color="#ff5252" stop-opacity="1"/></linearGradient><clipPath id="cplot"><rect x="8.5" y="521" width="1157" height="123"/></clipPath><clipPath id="cob"><rect x="8.5" y="521" width="1160" height="32.24"/></clipPath><clipPath id="cos"><rect x="8.5" y="617.36" width="1160" height="26.64"/></clipPath></defs>
<polygon clip-path="url(#cob)" points="7.55,553.24 7.55,530.11 10.53,549.61 13.51,545.19 16.5,535.66 19.48,545.09 22.46,544.99 25.45,545.3 28.43,564.85 31.41,557.71 34.4,559.69 37.38,560.98 40.37,567.67 43.35,557.42 46.33,574.56 49.32,571.96 52.3,564.39 55.28,564.26 58.27,561.54 61.25,561.14 64.23,569.84 67.22,573.29 70.2,564.66 73.19,569.78 76.17,589.46 79.15,594.31 82.14,589.77 85.12,593.55 88.1,594.98 91.09,585.46 94.07,568.54 97.05,574.37 100.04,567.73 103.02,568.29 106,570.24 108.99,567.29 111.97,576.2 114.96,579.02 117.94,577.71 120.92,585.91 123.91,588.43 126.89,579.86 129.87,581.25 132.86,586.94 135.84,576.55 138.82,579.78 141.81,593.52 144.79,593.99 147.78,594.33 150.76,593.66 153.74,594.81 156.73,599.89 159.71,614.07 162.69,615.16 165.68,603.82 168.66,581.85 171.64,569.82 174.63,567.15 177.61,575.35 180.59,572.64 183.58,560.12 186.56,565.5 189.55,563.04 192.53,571.64 195.51,564.17 198.5,574.82 201.48,566.63 204.46,575.85 207.45,577.08 210.43,573.49 213.41,581.91 216.4,575.23 219.38,572.93 222.37,573.08 225.35,569.7 228.33,569.87 231.32,574.58 234.3,572.38 237.28,564.78 240.27,560.51 243.25,567.65 246.23,569.22 249.22,572.24 252.2,570.76 255.18,563.68 258.17,567.91 261.15,564.29 264.14,553.36 267.12,545.85 270.1,547.87 273.09,545.59 276.07,555.53 279.05,552.82 282.04,581.87 285.02,580.99 288,592.88 290.99,589.44 293.97,591.07 296.96,593.62 299.94,589.57 302.92,589.86 305.91,583.04 308.89,585.77 311.87,583.15 314.86,589.46 317.84,595.41 320.82,588.4 323.81,582.74 326.79,587.28 329.77,570.41 332.76,584.78 335.74,588.47 338.73,591.59 341.71,591.73 344.69,592.44 347.68,598.83 350.66,596.59 353.64,598.32 356.63,597.49 359.61,593.23 362.59,592.37 365.58,592.75 368.56,596.83 371.55,594.02 374.53,591.93 377.51,595.47 380.5,591.82 383.48,582.27 386.46,594.55 389.45,593 392.43,587.36 395.41,586.85 398.4,569.53 401.38,573.97 404.36,572.39 407.35,579.55 410.33,582.84 413.32,572.94 416.3,576.9 419.28,577.44 422.27,595.6 425.25,580.19 428.23,590.05 431.22,587.29 434.2,588.45 437.18,602.99 440.17,602.77 443.15,604.43 446.14,604.91 449.12,616.92 452.1,613.04 455.09,600.85 458.07,598.41 461.05,599.56 464.04,595.49 467.02,583.89 470,567.96 472.99,571.67 475.97,568.77 478.95,572.48 481.94,568.77 484.92,577.48 487.91,572.42 490.89,584.59 493.87,580.48 496.86,568.44 499.84,570.43 502.82,568.61 505.81,566.06 508.79,570.39 511.77,576.13 514.76,588.11 517.74,583.89 520.73,585.04 523.71,585.44 526.69,581.91 529.68,582.37 532.66,583.83 535.64,560.55 538.63,575.06 541.61,576.45 544.59,578.3 547.58,580.62 550.56,583.6 553.54,585.34 556.53,584.88 559.51,584.88 562.5,591.23 565.48,585.22 568.46,594.09 571.45,592.18 574.43,588.07 577.41,590.85 580.4,586.83 583.38,585.38 586.36,590.8 589.35,592.21 592.33,587.22 595.32,596.32 598.3,597.38 601.28,599.57 604.27,596.41 607.25,598.81 610.23,599.12 613.22,587.19 616.2,587.55 619.18,589.1 622.17,590.3 625.15,589.35 628.13,593.26 631.12,591.15 634.1,598.89 637.09,606.28 640.07,631.34 643.05,633.91 646.04,630.22 649.02,623.8 652,626.28 654.99,630.84 657.97,612.47 660.95,615.78 663.94,616.97 666.92,618.03 669.91,613.37 672.89,614.61 675.87,587.64 678.86,593.59 681.84,605.84 684.82,608.79 687.81,605.95 690.79,606.14 693.77,607.57 696.76,606.08 699.74,606.31 702.72,600.29 705.71,603.21 708.69,603.49 711.68,608.33 714.66,621.8 717.64,605.57 720.63,600.47 723.61,594.29 726.59,589.94 729.58,591.6 732.56,595.22 735.54,590.05 738.53,588.01 741.51,594.46 744.5,604.37 747.48,600.96 750.46,600.57 753.45,604.09 756.43,601.07 759.41,598.87 762.4,597.05 765.38,576.28 768.36,572.19 771.35,571.03 774.33,556.24 777.31,579.66 780.3,581.6 783.28,584.14 786.27,593.53 789.25,584.24 792.23,587.11 795.22,587.38 798.2,600.21 801.18,602.93 804.17,603.14 807.15,608.8 810.13,604.14 813.12,603.05 816.1,601.89 819.09,587.32 822.07,596.63 825.05,597.13 828.04,595.51 831.02,582.37 831.02,553.24" fill="url(#gob)"/>
<polygon clip-path="url(#cos)" points="7.55,617.36 7.55,530.11 10.53,549.61 13.51,545.19 16.5,535.66 19.48,545.09 22.46,544.99 25.45,545.3 28.43,564.85 31.41,557.71 34.4,559.69 37.38,560.98 40.37,567.67 43.35,557.42 46.33,574.56 49.32,571.96 52.3,564.39 55.28,564.26 58.27,561.54 61.25,561.14 64.23,569.84 67.22,573.29 70.2,564.66 73.19,569.78 76.17,589.46 79.15,594.31 82.14,589.77 85.12,593.55 88.1,594.98 91.09,585.46 94.07,568.54 97.05,574.37 100.04,567.73 103.02,568.29 106,570.24 108.99,567.29 111.97,576.2 114.96,579.02 117.94,577.71 120.92,585.91 123.91,588.43 126.89,579.86 129.87,581.25 132.86,586.94 135.84,576.55 138.82,579.78 141.81,593.52 144.79,593.99 147.78,594.33 150.76,593.66 153.74,594.81 156.73,599.89 159.71,614.07 162.69,615.16 165.68,603.82 168.66,581.85 171.64,569.82 174.63,567.15 177.61,575.35 180.59,572.64 183.58,560.12 186.56,565.5 189.55,563.04 192.53,571.64 195.51,564.17 198.5,574.82 201.48,566.63 204.46,575.85 207.45,577.08 210.43,573.49 213.41,581.91 216.4,575.23 219.38,572.93 222.37,573.08 225.35,569.7 228.33,569.87 231.32,574.58 234.3,572.38 237.28,564.78 240.27,560.51 243.25,567.65 246.23,569.22 249.22,572.24 252.2,570.76 255.18,563.68 258.17,567.91 261.15,564.29 264.14,553.36 267.12,545.85 270.1,547.87 273.09,545.59 276.07,555.53 279.05,552.82 282.04,581.87 285.02,580.99 288,592.88 290.99,589.44 293.97,591.07 296.96,593.62 299.94,589.57 302.92,589.86 305.91,583.04 308.89,585.77 311.87,583.15 314.86,589.46 317.84,595.41 320.82,588.4 323.81,582.74 326.79,587.28 329.77,570.41 332.76,584.78 335.74,588.47 338.73,591.59 341.71,591.73 344.69,592.44 347.68,598.83 350.66,596.59 353.64,598.32 356.63,597.49 359.61,593.23 362.59,592.37 365.58,592.75 368.56,596.83 371.55,594.02 374.53,591.93 377.51,595.47 380.5,591.82 383.48,582.27 386.46,594.55 389.45,593 392.43,587.36 395.41,586.85 398.4,569.53 401.38,573.97 404.36,572.39 407.35,579.55 410.33,582.84 413.32,572.94 416.3,576.9 419.28,577.44 422.27,595.6 425.25,580.19 428.23,590.05 431.22,587.29 434.2,588.45 437.18,602.99 440.17,602.77 443.15,604.43 446.14,604.91 449.12,616.92 452.1,613.04 455.09,600.85 458.07,598.41 461.05,599.56 464.04,595.49 467.02,583.89 470,567.96 472.99,571.67 475.97,568.77 478.95,572.48 481.94,568.77 484.92,577.48 487.91,572.42 490.89,584.59 493.87,580.48 496.86,568.44 499.84,570.43 502.82,568.61 505.81,566.06 508.79,570.39 511.77,576.13 514.76,588.11 517.74,583.89 520.73,585.04 523.71,585.44 526.69,581.91 529.68,582.37 532.66,583.83 535.64,560.55 538.63,575.06 541.61,576.45 544.59,578.3 547.58,580.62 550.56,583.6 553.54,585.34 556.53,584.88 559.51,584.88 562.5,591.23 565.48,585.22 568.46,594.09 571.45,592.18 574.43,588.07 577.41,590.85 580.4,586.83 583.38,585.38 586.36,590.8 589.35,592.21 592.33,587.22 595.32,596.32 598.3,597.38 601.28,599.57 604.27,596.41 607.25,598.81 610.23,599.12 613.22,587.19 616.2,587.55 619.18,589.1 622.17,590.3 625.15,589.35 628.13,593.26 631.12,591.15 634.1,598.89 637.09,606.28 640.07,631.34 643.05,633.91 646.04,630.22 649.02,623.8 652,626.28 654.99,630.84 657.97,612.47 660.95,615.78 663.94,616.97 666.92,618.03 669.91,613.37 672.89,614.61 675.87,587.64 678.86,593.59 681.84,605.84 684.82,608.79 687.81,605.95 690.79,606.14 693.77,607.57 696.76,606.08 699.74,606.31 702.72,600.29 705.71,603.21 708.69,603.49 711.68,608.33 714.66,621.8 717.64,605.57 720.63,600.47 723.61,594.29 726.59,589.94 729.58,591.6 732.56,595.22 735.54,590.05 738.53,588.01 741.51,594.46 744.5,604.37 747.48,600.96 750.46,600.57 753.45,604.09 756.43,601.07 759.41,598.87 762.4,597.05 765.38,576.28 768.36,572.19 771.35,571.03 774.33,556.24 777.31,579.66 780.3,581.6 783.28,584.14 786.27,593.53 789.25,584.24 792.23,587.11 795.22,587.38 798.2,600.21 801.18,602.93 804.17,603.14 807.15,608.8 810.13,604.14 813.12,603.05 816.1,601.89 819.09,587.32 822.07,596.63 825.05,597.13 828.04,595.51 831.02,582.37 831.02,617.36" fill="url(#gos)"/>
<g clip-path="url(#cplot)">
<polyline points="7.55,549.6 10.53,547.93 13.51,545.76 16.5,543.34 19.48,541.43 22.46,540.01 25.45,539.23 28.43,540.07 31.41,541.07 34.4,542.5 37.38,544.3 40.37,547.16 43.35,549.3 46.33,552.77 49.32,555.76 52.3,556.82 55.28,558.18 58.27,560.03 61.25,561.17 64.23,562.95 67.22,564.95 70.2,564.94 73.19,565.8 76.17,567.92 79.15,570.3 82.14,571.88 85.12,574.46 88.1,575.92 91.09,576.89 94.07,577.18 97.05,577.91 100.04,578.35 103.02,578.86 106,578.89 108.99,578.46 111.97,579.28 114.96,579.94 117.94,579.1 120.92,578.5 123.91,578.41 126.89,577.43 129.87,576.45 132.86,576.56 135.84,577.13 138.82,577.52 141.81,579.36 144.79,581.19 147.78,582.91 150.76,584.8 153.74,586.13 156.73,587.62 159.71,590.21 162.69,592.3 165.68,593.4 168.66,593.54 171.64,592.73 174.63,591.31 177.61,591.23 180.59,590.72 183.58,588.33 186.56,586.3 189.55,584.06 192.53,582.49 195.51,580.3 198.5,578.51 201.48,575.12 204.46,572.31 207.45,570.4 210.43,569.81 213.41,570.67 216.4,571.25 219.38,571.07 222.37,571.11 225.35,571.79 228.33,572.1 231.32,572.93 234.3,572.98 237.28,573.02 240.27,572 243.25,572.07 246.23,571.6 249.22,571.25 252.2,571.06 255.18,569.76 258.17,569.24 261.15,568.62 264.14,567.21 267.12,565.51 270.1,563.94 273.09,561.86 276.07,560.66 279.05,559.81 282.04,561.33 285.02,562.29 288,563.98 290.99,565.2 293.97,566.65 296.96,568.79 299.94,570.34 302.92,572.17 305.91,574.29 308.89,577.14 311.87,579.66 314.86,582.79 317.84,585.64 320.82,588.18 323.81,588.24 326.79,588.69 329.77,587.09 332.76,586.75 335.74,586.57 338.73,586.42 341.71,586.58 344.69,586.76 347.68,587.89 350.66,588.66 353.64,589.75 356.63,590.32 359.61,590.16 362.59,590.45 365.58,591.16 368.56,591.85 371.55,593.53 374.53,594.04 377.51,594.54 380.5,594.56 383.48,593.88 386.46,594.03 389.45,593.62 392.43,592.96 395.41,592.14 398.4,590.14 401.38,588.77 404.36,587.34 407.35,586.4 410.33,585.4 413.32,583.89 416.3,582.82 419.28,581.53 422.27,581.8 425.25,581.65 428.23,581.33 431.22,580.92 434.2,581 437.18,582.15 440.17,584.53 443.15,586.7 446.14,589.03 449.12,591.7 452.1,593.85 455.09,595.85 458.07,597.38 461.05,598.96 464.04,598.95 467.02,599.22 470,597.64 472.99,596.52 475.97,595.12 478.95,592.94 481.94,590.51 484.92,588.59 487.91,586.26 490.89,583.96 493.87,581.63 496.86,579.32 499.84,577.32 502.82,575.11 505.81,573 508.79,572.04 511.77,572.62 514.76,573.8 517.74,574.88 520.73,575.77 523.71,576.97 526.69,577.28 529.68,577.99 532.66,577.94 535.64,576.51 538.63,576.99 541.61,577.42 544.59,578.11 547.58,579.15 550.56,580.09 553.54,580.75 556.53,580.52 559.51,580.59 562.5,581.03 565.48,581.02 568.46,581.89 571.45,582.59 574.43,582.89 577.41,585.06 580.4,585.9 583.38,586.53 586.36,587.43 589.35,588.26 592.33,588.51 595.32,589.3 598.3,590.19 601.28,591.24 604.27,591.61 607.25,592.58 610.23,592.94 613.22,592.58 616.2,592.55 619.18,592.42 622.17,592.67 625.15,592.95 628.13,593.13 631.12,593.05 634.1,593.89 637.09,594.6 640.07,597.02 643.05,599.48 646.04,601.89 649.02,603.68 652,605.62 654.99,608.73 657.97,610.51 660.95,612.42 663.94,614.32 666.92,616.37 669.91,617.81 672.89,619.49 675.87,618.68 678.86,617.78 681.84,615.95 684.82,614.16 687.81,612.43 690.79,611.16 693.77,609.83 696.76,608.06 699.74,607.62 702.72,606.51 705.71,605.53 708.69,604.49 711.68,604.13 714.66,604.64 717.64,605.92 720.63,606.42 723.61,605.59 726.59,604.25 729.58,603.22 732.56,602.44 735.54,601.19 738.53,599.9 741.51,599.05 744.5,599.34 747.48,599.18 750.46,598.97 753.45,598.67 756.43,597.19 759.41,596.71 762.4,596.47 765.38,595.18 768.36,593.91 771.35,592.44 774.33,589.66 777.31,588.92 780.3,588.46 783.28,587.72 786.27,586.95 789.25,585.75 792.23,584.79 795.22,583.6 798.2,583.54 801.18,583.83 804.17,584.26 807.15,586.59 810.13,588.87 813.12,591.16 816.1,594.42 819.09,594.96 822.07,596.04 825.05,596.96 828.04,597.11 831.02,596.99" fill="none" stroke="#f7e056" stroke-width="1.3" stroke-linejoin="round"/>
<polyline points="7.55,530.11 10.53,549.61 13.51,545.19 16.5,535.66 19.48,545.09 22.46,544.99 25.45,545.3 28.43,564.85 31.41,557.71 34.4,559.69 37.38,560.98 40.37,567.67 43.35,557.42 46.33,574.56 49.32,571.96 52.3,564.39 55.28,564.26 58.27,561.54 61.25,561.14 64.23,569.84 67.22,573.29 70.2,564.66 73.19,569.78 76.17,589.46 79.15,594.31 82.14,589.77 85.12,593.55 88.1,594.98 91.09,585.46 94.07,568.54 97.05,574.37 100.04,567.73 103.02,568.29 106,570.24 108.99,567.29 111.97,576.2 114.96,579.02 117.94,577.71 120.92,585.91 123.91,588.43 126.89,579.86 129.87,581.25 132.86,586.94 135.84,576.55 138.82,579.78 141.81,593.52 144.79,593.99 147.78,594.33 150.76,593.66 153.74,594.81 156.73,599.89 159.71,614.07 162.69,615.16 165.68,603.82 168.66,581.85 171.64,569.82 174.63,567.15 177.61,575.35 180.59,572.64 183.58,560.12 186.56,565.5 189.55,563.04 192.53,571.64 195.51,564.17 198.5,574.82 201.48,566.63 204.46,575.85 207.45,577.08 210.43,573.49 213.41,581.91 216.4,575.23 219.38,572.93 222.37,573.08 225.35,569.7 228.33,569.87 231.32,574.58 234.3,572.38 237.28,564.78 240.27,560.51 243.25,567.65 246.23,569.22 249.22,572.24 252.2,570.76 255.18,563.68 258.17,567.91 261.15,564.29 264.14,553.36 267.12,545.85 270.1,547.87 273.09,545.59 276.07,555.53 279.05,552.82 282.04,581.87 285.02,580.99 288,592.88 290.99,589.44 293.97,591.07 296.96,593.62 299.94,589.57 302.92,589.86 305.91,583.04 308.89,585.77 311.87,583.15 314.86,589.46 317.84,595.41 320.82,588.4 323.81,582.74 326.79,587.28 329.77,570.41 332.76,584.78 335.74,588.47 338.73,591.59 341.71,591.73 344.69,592.44 347.68,598.83 350.66,596.59 353.64,598.32 356.63,597.49 359.61,593.23 362.59,592.37 365.58,592.75 368.56,596.83 371.55,594.02 374.53,591.93 377.51,595.47 380.5,591.82 383.48,582.27 386.46,594.55 389.45,593 392.43,587.36 395.41,586.85 398.4,569.53 401.38,573.97 404.36,572.39 407.35,579.55 410.33,582.84 413.32,572.94 416.3,576.9 419.28,577.44 422.27,595.6 425.25,580.19 428.23,590.05 431.22,587.29 434.2,588.45 437.18,602.99 440.17,602.77 443.15,604.43 446.14,604.91 449.12,616.92 452.1,613.04 455.09,600.85 458.07,598.41 461.05,599.56 464.04,595.49 467.02,583.89 470,567.96 472.99,571.67 475.97,568.77 478.95,572.48 481.94,568.77 484.92,577.48 487.91,572.42 490.89,584.59 493.87,580.48 496.86,568.44 499.84,570.43 502.82,568.61 505.81,566.06 508.79,570.39 511.77,576.13 514.76,588.11 517.74,583.89 520.73,585.04 523.71,585.44 526.69,581.91 529.68,582.37 532.66,583.83 535.64,560.55 538.63,575.06 541.61,576.45 544.59,578.3 547.58,580.62 550.56,583.6 553.54,585.34 556.53,584.88 559.51,584.88 562.5,591.23 565.48,585.22 568.46,594.09 571.45,592.18 574.43,588.07 577.41,590.85 580.4,586.83 583.38,585.38 586.36,590.8 589.35,592.21 592.33,587.22 595.32,596.32 598.3,597.38 601.28,599.57 604.27,596.41 607.25,598.81 610.23,599.12 613.22,587.19 616.2,587.55 619.18,589.1 622.17,590.3 625.15,589.35 628.13,593.26 631.12,591.15 634.1,598.89 637.09,606.28 640.07,631.34 643.05,633.91 646.04,630.22 649.02,623.8 652,626.28 654.99,630.84 657.97,612.47 660.95,615.78 663.94,616.97 666.92,618.03 669.91,613.37 672.89,614.61 675.87,587.64 678.86,593.59 681.84,605.84 684.82,608.79 687.81,605.95 690.79,606.14 693.77,607.57 696.76,606.08 699.74,606.31 702.72,600.29 705.71,603.21 708.69,603.49 711.68,608.33 714.66,621.8 717.64,605.57 720.63,600.47 723.61,594.29 726.59,589.94 729.58,591.6 732.56,595.22 735.54,590.05 738.53,588.01 741.51,594.46 744.5,604.37 747.48,600.96 750.46,600.57 753.45,604.09 756.43,601.07 759.41,598.87 762.4,597.05 765.38,576.28 768.36,572.19 771.35,571.03 774.33,556.24 777.31,579.66 780.3,581.6 783.28,584.14 786.27,593.53 789.25,584.24 792.23,587.11 795.22,587.38 798.2,600.21 801.18,602.93 804.17,603.14 807.15,608.8 810.13,604.14 813.12,603.05 816.1,601.89 819.09,587.32 822.07,596.63 825.05,597.13 828.04,595.51 831.02,582.37" fill="none" stroke="#7e57c2" stroke-width="1" stroke-opacity="0.9" stroke-linejoin="round"/>
</g>
<path d="M8.5 520.5H1215.5" stroke="#eceef3" stroke-width="1"/>
<rect x="8.5" y="21.5" width="1207" height="645" fill="none" stroke="#e7e9f0" stroke-width="1"/>
<text transform="translate(1171.7 512.36) scale(1 0.94)" fill="#262a36" textLength="33.2" lengthAdjust="spacingAndGlyphs">1200.00</text>
<text transform="translate(1171.7 474.69) scale(1 0.94)" fill="#262a36" textLength="33.2" lengthAdjust="spacingAndGlyphs">1300.00</text>
<text transform="translate(1171.7 437.02) scale(1 0.94)" fill="#262a36" textLength="33.2" lengthAdjust="spacingAndGlyphs">1400.00</text>
<text transform="translate(1171.7 399.35) scale(1 0.94)" fill="#262a36" textLength="33.2" lengthAdjust="spacingAndGlyphs">1500.00</text>
<text transform="translate(1171.7 361.68) scale(1 0.94)" fill="#262a36" textLength="33.2" lengthAdjust="spacingAndGlyphs">1600.00</text>
<text transform="translate(1171.7 324.01) scale(1 0.94)" fill="#262a36" textLength="33.2" lengthAdjust="spacingAndGlyphs">1700.00</text>
<text transform="translate(1171.7 286.34) scale(1 0.94)" fill="#262a36" textLength="33.2" lengthAdjust="spacingAndGlyphs">1800.00</text>
<text transform="translate(1171.7 248.67) scale(1 0.94)" fill="#262a36" textLength="33.2" lengthAdjust="spacingAndGlyphs">1900.00</text>
<text transform="translate(1171.7 211) scale(1 0.94)" fill="#262a36" textLength="33.2" lengthAdjust="spacingAndGlyphs">2000.00</text>
<text transform="translate(1171.7 173.33) scale(1 0.94)" fill="#262a36" textLength="33.2" lengthAdjust="spacingAndGlyphs">2100.00</text>
<text transform="translate(1171.7 135.66) scale(1 0.94)" fill="#262a36" textLength="33.2" lengthAdjust="spacingAndGlyphs">2200.00</text>
<text transform="translate(1171.7 97.99) scale(1 0.94)" fill="#262a36" textLength="33.2" lengthAdjust="spacingAndGlyphs">2300.00</text>
<text transform="translate(1171.7 60.32) scale(1 0.94)" fill="#262a36" textLength="33.2" lengthAdjust="spacingAndGlyphs">2400.00</text>
<text transform="translate(1171.7 540.61) scale(1 0.94)" fill="#262a36" textLength="23.5" lengthAdjust="spacingAndGlyphs">80.00</text>
<text transform="translate(1171.7 572.67) scale(1 0.94)" fill="#262a36" textLength="23.5" lengthAdjust="spacingAndGlyphs">60.00</text>
<text transform="translate(1171.7 604.73) scale(1 0.94)" fill="#262a36" textLength="23.5" lengthAdjust="spacingAndGlyphs">40.00</text>
<text transform="translate(1171.7 636.79) scale(1 0.94)" fill="#262a36" textLength="23.5" lengthAdjust="spacingAndGlyphs">20.00</text>
<text transform="translate(52.3 659) scale(1 0.94)" fill="#262a36" text-anchor="middle">Feb</text>
<text transform="translate(135.84 659) scale(1 0.94)" fill="#262a36" text-anchor="middle">Mar</text>
<text transform="translate(228.33 659) scale(1 0.94)" fill="#262a36" text-anchor="middle">Apr</text>
<text transform="translate(317.84 659) scale(1 0.94)" fill="#262a36" text-anchor="middle">May</text>
<text transform="translate(410.33 659) scale(1 0.94)" fill="#262a36" text-anchor="middle">Jun</text>
<text transform="translate(499.84 659) scale(1 0.94)" fill="#262a36" text-anchor="middle">Jul</text>
<text transform="translate(592.33 659) scale(1 0.94)" fill="#262a36" text-anchor="middle">Aug</text>
<text transform="translate(684.82 659) scale(1 0.94)" fill="#262a36" text-anchor="middle">Sep</text>
<text transform="translate(774.33 659) scale(1 0.94)" fill="#262a36" text-anchor="middle">Oct</text>
<text transform="translate(866.82 659) scale(1 0.94)" fill="#262a36" text-anchor="middle">Nov</text>
<text transform="translate(956.33 659) scale(1 0.94)" fill="#262a36" text-anchor="middle">Dec</text>
<text transform="translate(1048.82 659) scale(1 0.94)" fill="#262a36" font-weight="bold" text-anchor="middle">2024</text>
<text transform="translate(1141.31 659) scale(1 0.94)" fill="#262a36" text-anchor="middle">Feb</text>
<rect x="1168.7" y="24.5" width="44" height="20.5" rx="3.5" fill="#fff" stroke="#e7e9f0" stroke-width="1"/>
<text transform="translate(1175.8 37.6) scale(1 0.94)" fill="#262a36" textLength="16.5" lengthAdjust="spacingAndGlyphs">USD</text>
<rect x="1165.5" y="297.1" width="44" height="13.6" rx="1.2" fill="#2962ff"/>
<text transform="translate(1171.7 307.3) scale(1 0.94)" fill="#fff" textLength="33.2" lengthAdjust="spacingAndGlyphs" font-weight="bold">1744.62</text>
<rect x="1165.5" y="349" width="47.2" height="24.4" rx="1.2" fill="#089981"/>
<text transform="translate(1171.7 359.4) scale(1 0.94)" fill="#fff" textLength="33.2" lengthAdjust="spacingAndGlyphs" font-weight="bold">1609.21</text>
<text transform="translate(1171.7 370.3) scale(1 0.94)" fill="#fff" textLength="36.5" lengthAdjust="spacingAndGlyphs" fill-opacity="0.85">05:08:50</text>
<rect x="1165.5" y="378.2" width="44" height="12.8" rx="1.2" fill="#050505"/>
<text transform="translate(1171.7 388) scale(1 0.94)" fill="#fff" textLength="33.2" lengthAdjust="spacingAndGlyphs" font-weight="bold">1531.69</text>
<rect x="1165.5" y="439.4" width="44" height="13.4" rx="1.2" fill="#2962ff"/>
<text transform="translate(1171.7 449.5) scale(1 0.94)" fill="#fff" textLength="33.2" lengthAdjust="spacingAndGlyphs" font-weight="bold">1366.93</text>
<text transform="translate(8.6 15.5) scale(1 0.94)" fill="#262a36" textLength="324" lengthAdjust="spacingAndGlyphs" font-size="10.29">sahilmahadik07 published on TradingView.com, Oct 21, 2023 00:21 UTC+5:30</text>
<text transform="translate(14.4 37) scale(1 0.94)" fill="#262a36" textLength="155" lengthAdjust="spacingAndGlyphs">Ethereum / U.S. Dollar, 1D, BINANCE</text>
<text transform="translate(176 37) scale(1 0.94)" fill="#262a36" textLength="5.6" lengthAdjust="spacingAndGlyphs">O</text>
<text transform="translate(183.1 37) scale(1 0.94)" fill="#089981" textLength="31.6" lengthAdjust="spacingAndGlyphs">1567.57</text>
<text transform="translate(220.8 37) scale(1 0.94)" fill="#262a36" textLength="5.4" lengthAdjust="spacingAndGlyphs">H</text>
<text transform="translate(227.9 37) scale(1 0.94)" fill="#089981" textLength="32" lengthAdjust="spacingAndGlyphs">1633.14</text>
<text transform="translate(266 37) scale(1 0.94)" fill="#262a36" textLength="3.9" lengthAdjust="spacingAndGlyphs">L</text>
<text transform="translate(270.9 37) scale(1 0.94)" fill="#089981" textLength="32.4" lengthAdjust="spacingAndGlyphs">1562.39</text>
<text transform="translate(309.5 37) scale(1 0.94)" fill="#262a36" textLength="5.5" lengthAdjust="spacingAndGlyphs">C</text>
<text transform="translate(316.1 37) scale(1 0.94)" fill="#089981" textLength="31.4" lengthAdjust="spacingAndGlyphs">1609.21</text>
<text transform="translate(354 37) scale(1 0.94)" fill="#089981" textLength="66.9" lengthAdjust="spacingAndGlyphs">+41.67 (+2.66%)</text>
<text transform="translate(14.4 50) scale(1 0.94)" fill="#262a36" textLength="58.2" lengthAdjust="spacingAndGlyphs">Vol · ETH (20)</text>
<text transform="translate(78.4 50) scale(1 0.94)" fill="#089981" textLength="34.1" lengthAdjust="spacingAndGlyphs">34.289K</text>
<text transform="translate(117.5 50) scale(1 0.94)" fill="#2962ff" textLength="34.2" lengthAdjust="spacingAndGlyphs">23.841K</text>
<text transform="translate(14.4 63) scale(1 0.94)" fill="#262a36" textLength="78" lengthAdjust="spacingAndGlyphs">Supertrend (10, 3)</text>
<text transform="translate(98.5 63.2) scale(1 0.94)" fill="#262a36" textLength="5.6" lengthAdjust="spacingAndGlyphs" font-weight="bold" font-size="9.66">∅</text>
<text transform="translate(109.6 63) scale(1 0.94)" fill="#f23645" textLength="33.1" lengthAdjust="spacingAndGlyphs">1674.57</text>
<text transform="translate(14.9 535.7) scale(1 0.94)" fill="#262a36" textLength="110.3" lengthAdjust="spacingAndGlyphs">RSI (14, close, SMA, 14, 2)</text>
<text transform="translate(131.6 535.7) scale(1 0.94)" fill="#7e57c2" textLength="22.4" lengthAdjust="spacingAndGlyphs">51.83</text>
<text transform="translate(159.3 535.7) scale(1 0.94)" fill="#f3d548" textLength="22.7" lengthAdjust="spacingAndGlyphs">42.71</text>
<text transform="translate(188.4 535.9) scale(1 0.94)" fill="#262a36" textLength="5.6" lengthAdjust="spacingAndGlyphs" font-weight="bold" font-size="9.66">∅</text>
<text transform="translate(200.2 535.9) scale(1 0.94)" fill="#262a36" textLength="5.6" lengthAdjust="spacingAndGlyphs" font-weight="bold" font-size="9.66">∅</text>
<text transform="translate(212.4 535.9) scale(1 0.94)" fill="#262a36" textLength="5.6" lengthAdjust="spacingAndGlyphs" font-weight="bold" font-size="9.66">∅</text>
<text transform="translate(224.4 535.9) scale(1 0.94)" fill="#262a36" textLength="5.6" lengthAdjust="spacingAndGlyphs" font-weight="bold" font-size="9.66">∅</text>
<text transform="translate(236.2 535.9) scale(1 0.94)" fill="#262a36" textLength="5.6" lengthAdjust="spacingAndGlyphs" font-weight="bold" font-size="9.66">∅</text>
<text transform="translate(248.4 535.9) scale(1 0.94)" fill="#262a36" textLength="5.6" lengthAdjust="spacingAndGlyphs" font-weight="bold" font-size="9.66">∅</text>
<path d="M8 676.1H15V683.8H11V679H8Z M16.9 676.3a1.35 1.35 0 1 0 0.01 0Z M19.3 676.1H23.5L21.2 683.8H16.9Z" fill="#131722"/>
<text transform="translate(26.4 683.8) scale(1 0.94)" fill="#363a45" textLength="54.8" lengthAdjust="spacingAndGlyphs" font-size="10.29">TradingView</text>
</svg>
</body></html>
